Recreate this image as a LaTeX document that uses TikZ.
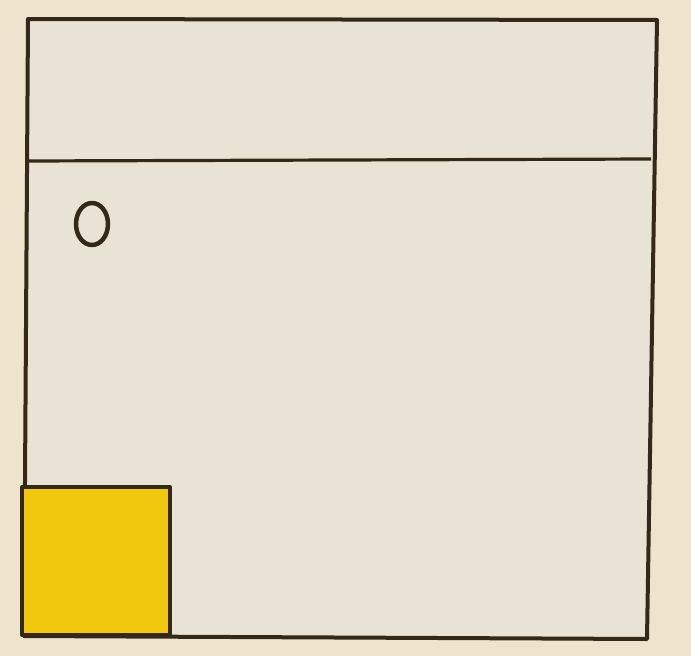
\documentclass[tikz,border=0pt]{standalone}
\usetikzlibrary{backgrounds}
\definecolor{paper}{RGB}{238,227,205}
\definecolor{sheet}{RGB}{233,227,214}
\definecolor{inkbrown}{RGB}{52,40,24}
\definecolor{gold}{RGB}{242,200,14}
\tikzset{
  ink/.style={draw=inkbrown, line width=4pt, line join=round},
  thinink/.style={draw=inkbrown, line width=3.2pt}
}
\begin{document}
\begin{tikzpicture}[x=1pt,y=-1pt]
% page
\fill[paper] (0,0) rectangle (691,656);
\useasboundingbox (0,0) rectangle (691,656);
% corners of the frame
\coordinate (tl) at (28,19);
\coordinate (tr) at (657,20);
\coordinate (br) at (647,639);
\coordinate (bl) at (24,636);
% frame
\filldraw[ink, fill=sheet] (tl) -- (tr) -- (br) -- (bl) -- cycle;
% band under the top
\draw[thinink] (27,161) -- (651,159);
% small ring
\draw[ink, line width=4.5pt] (92,224) ellipse (16pt and 21pt);
% yellow square
\filldraw[ink, fill=gold] (22,487) rectangle (170,635);
\end{tikzpicture}
\end{document}
